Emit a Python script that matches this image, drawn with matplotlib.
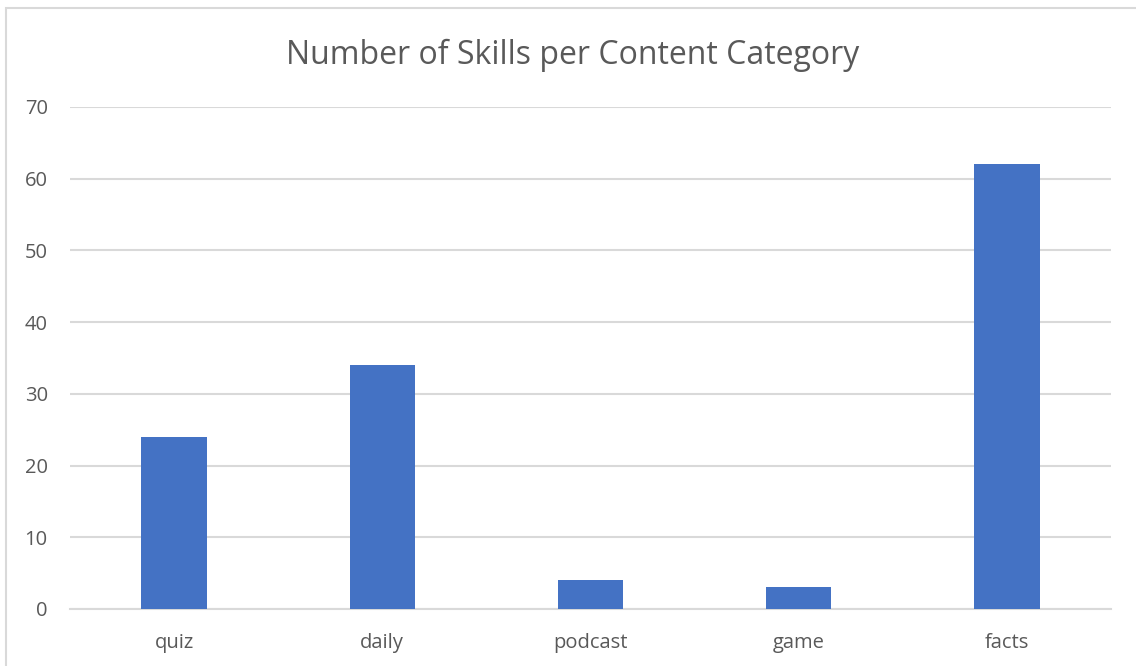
import matplotlib
matplotlib.use("Agg")
import matplotlib.pyplot as plt
from matplotlib.patches import Rectangle

categories = ["quiz", "daily", "podcast", "game", "facts"]
skills = [24, 34, 4, 3, 62]
y_ticks = [0, 10, 20, 30, 40, 50, 60, 70]
title = "Number of Skills per Content Category"

W, H = 1136, 666
fig = plt.figure(figsize=(W / 100, H / 100), dpi=100)
plt.rcParams["font.family"] = ["Open Sans", "DejaVu Sans"]

text_color = "#595959"
grid_color = "#d9d9d9"
bar_color = "#4472C4"

# chart frame
fig.patches.append(Rectangle((6 / W, -0.1), 1.2, 1 - 8 / H + 0.1,
                             transform=fig.transFigure, fill=False,
                             edgecolor="#d9d9d9", linewidth=1.5))

ax = fig.add_axes([70 / W, 1 - 609 / H, (1111 - 70) / W, (609 - 107) / H])
x = range(len(categories))
ax.bar(x, skills, width=0.315, color=bar_color, zorder=3)
ax.set_xlim(-0.5, len(categories) - 0.5)
ax.set_ylim(0, 70)
ax.set_yticks(y_ticks)
ax.set_xticks(list(x))
ax.set_xticklabels(categories)
ax.yaxis.grid(True, color=grid_color, linewidth=1.5, zorder=0)
for s in ["top", "right", "left"]:
    ax.spines[s].set_visible(False)
ax.spines["bottom"].set_color(grid_color)
ax.spines["bottom"].set_linewidth(1.5)
ax.tick_params(axis="both", length=0, colors=text_color, labelsize=14.5)
ax.tick_params(axis="y", pad=16)
ax.tick_params(axis="x", pad=17)

fig.text(573 / W, 1 - 55 / H, title, ha="center", va="center",
         fontsize=23, color=text_color)

fig.savefig("out.png", dpi=100)
